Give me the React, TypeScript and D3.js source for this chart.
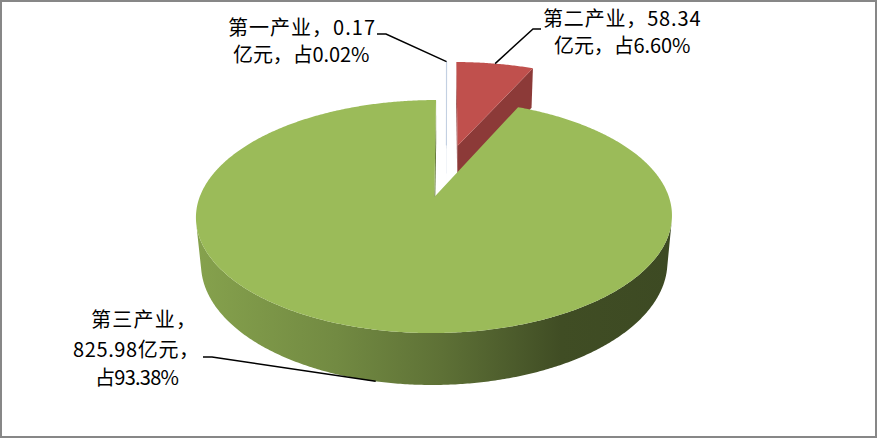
import React from 'react';
import * as d3 from 'd3';

// ---- data ----
const categories = ['第一产业', '第二产业', '第三产业'];
const values = [0.17, 58.34, 825.98];
const unit = '亿元';

// ---- layout ----
const W = 877;
const H = 438;
const FONT = 20;
const EM = 21; // advance used to fix each label line's width

// perspective camera for the 3D pie (unit radius disk, top face at y = 0)
const K = 225.4; // focal length / camera distance, in px
const A = 104.5;
const B = 0.161;
const S = A / K; // sin(tilt)
const C = Math.sqrt(1 - S * S); // cos(tilt)
const D = C / B; // camera distance in radii
const CX = 446.4;
const CY = 170.4;
const EXPLODE = 0.25;
const DEPTH = 0.2286;
const CAM = { x: 0, z: -D * C };

type Pt = [number, number];

function project(x: number, y: number, z: number): Pt {
  const zp = z * C - y * S;
  const yp = y * C + z * S;
  const den = 1 + zp / D;
  return [CX + (K * x) / den, CY - (K * yp) / den];
}

const topColors = ['#4f81bd', '#c0504d', '#9bbb59'];
const wallColors = ['#3a6190', '#8c3a38', '#5f7534'];
// darkness along the curved side, left to right
const sideStops: [number, number][] = [
  [0, 0.4],
  [0.3, 0.85],
  [0.52, 1.4],
  [0.68, 2.05],
  [0.77, 2.5],
  [1, 2.6],
];

// label text lines and the point where each leader line leaves the label
const total = d3.sum(values);
const pct = (v: number) => ((v / total) * 100).toFixed(2) + '%';
const labelLines = (i: number): string[] =>
  i < 2
    ? [`${categories[i]}，${values[i]}`, `${unit}，占${pct(values[i])}`]
    : [`${categories[i]}，`, `${values[i]}${unit}，`, `占${pct(values[i])}`];
const labelPos: { x: number[]; y: number[] }[] = [
  { x: [228, 233], y: [35, 62] },
  { x: [543, 554], y: [25.5, 52.5] },
  { x: [91, 73, 95], y: [327, 357, 385] },
];
const leaderStart: Pt[][] = [
  [
    [377, 34],
    [386, 34],
  ],
  [
    [541, 29],
    [533, 29],
  ],
  [
    [203, 357],
    [212, 357],
  ],
];

const emWidth = (s: string) =>
  Array.from(s).reduce((w, ch) => w + (ch.charCodeAt(0) < 0x2000 ? 0.5 : 1), 0);

const toPath = (pts: Pt[]) => d3.line()(pts as [number, number][]) + 'Z';

export default function App() {
  const arcs = d3
    .pie<number>()
    .sort(null)
    .value((d) => d)(values);

  const slices = arcs.map((a, i) => {
    const mid = (a.startAngle + a.endAngle) / 2;
    const ox = EXPLODE * Math.sin(mid);
    const oz = EXPLODE * Math.cos(mid);
    const span = a.endAngle - a.startAngle;
    const n = Math.max(2, Math.ceil(span / (Math.PI / 360)));
    const angles = d3.range(n + 1).map((j) => a.startAngle + (span * j) / n);
    const rim = (t: number, y: number) => project(ox + Math.sin(t), y, oz + Math.cos(t));

    const top: Pt[] = [project(ox, 0, oz), ...angles.map((t) => rim(t, 0))];

    const facing = angles.filter((t) => {
      const px = ox + Math.sin(t);
      const pz = oz + Math.cos(t);
      return (CAM.x - px) * Math.sin(t) + (CAM.z - pz) * Math.cos(t) > 0;
    });
    const side: Pt[] | null =
      facing.length > 1
        ? [...facing.map((t) => rim(t, 0)), ...facing.slice().reverse().map((t) => rim(t, -DEPTH))]
        : null;

    const walls: Pt[][] = [];
    const wallDefs: [number, number, number][] = [
      [a.startAngle, -Math.cos(a.startAngle), Math.sin(a.startAngle)],
      [a.endAngle, Math.cos(a.endAngle), -Math.sin(a.endAngle)],
    ];
    for (const [t, nx, nz] of wallDefs) {
      if ((CAM.x - ox) * nx + (CAM.z - oz) * nz > 0) {
        walls.push([project(ox, 0, oz), rim(t, 0), rim(t, -DEPTH), project(ox, -DEPTH, oz)]);
      }
    }

    const anchor = i < 2 ? rim(mid, 0) : rim(mid, -DEPTH);
    return { i, oz, top, side, walls, anchor };
  });

  const order = slices.slice().sort((p, q) => q.oz - p.oz);

  return (
    <svg
      width={W}
      height={H}
      style={{ position: 'absolute', left: 0, top: 0, background: '#fff' }}
      fontFamily="'Noto Sans CJK SC', sans-serif"
    >
      <defs>
        {topColors.map((col, i) => (
          <linearGradient
            key={i}
            id={`side${i}`}
            gradientUnits="userSpaceOnUse"
            x1={194}
            x2={670}
            y1={0}
            y2={0}
          >
            {sideStops.map(([o, k], j) => (
              <stop key={j} offset={o} stopColor={d3.rgb(col).darker(k).formatHex()} />
            ))}
          </linearGradient>
        ))}
      </defs>
      <rect x={1} y={1} width={W - 2} height={H - 2} fill="#fff" stroke="#878787" strokeWidth={2} />

      {order.map((s) => (
        <g key={s.i}>
          {s.walls.map((w, j) => (
            <path key={j} d={toPath(w)} fill={wallColors[s.i]} />
          ))}
          {s.side && <path d={toPath(s.side)} fill={`url(#side${s.i})`} />}
          <path
            d={toPath(s.top)}
            fill={topColors[s.i]}
            stroke={s.i === 0 ? '#c3d0e2' : 'none'}
            strokeWidth={s.i === 0 ? 1 : 0}
          />
        </g>
      ))}

      {slices.map((s) => (
        <polyline
          key={s.i}
          points={[...leaderStart[s.i], s.anchor].map((p) => p.join(',')).join(' ')}
          fill="none"
          stroke="#000"
          strokeWidth={1.5}
        />
      ))}

      {slices.map((s) => (
        <g key={s.i} fontSize={FONT} fill="#000">
          {labelLines(s.i).map((line, j) => (
            <text
              key={j}
              x={labelPos[s.i].x[j]}
              y={labelPos[s.i].y[j]}
              textLength={emWidth(line) * EM}
              lengthAdjust="spacing"
            >
              {line}
            </text>
          ))}
        </g>
      ))}
    </svg>
  );
}
